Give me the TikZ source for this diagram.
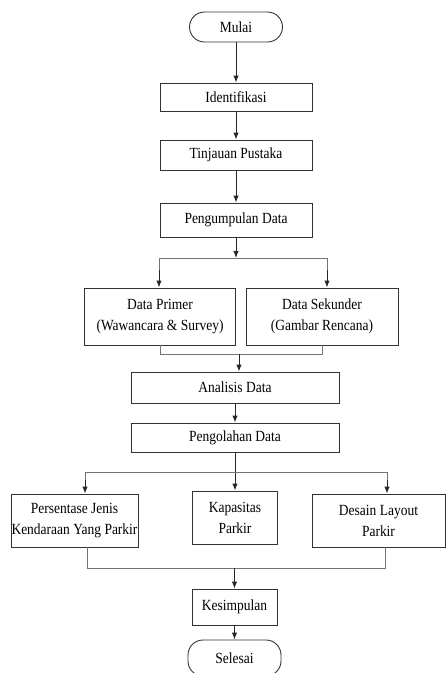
\documentclass[tikz,border=0pt]{standalone}
\usepackage{fontspec}
\setmainfont{Liberation Serif}[FakeStretch=0.87]
\usetikzlibrary{arrows.meta}

\begin{document}
\begin{tikzpicture}[x=1pt, y=-1pt,
    font=\fontsize{15.5}{21}\selectfont,
    proses/.style={draw=black!80, line width=0.9pt, align=center, inner sep=0pt},
    terminal/.style={proses, rounded corners=15pt, minimum width=93pt, minimum height=30pt},
    panah/.style={-{Latex[length=7pt,width=5.5pt]}, line width=1pt, black!85},
    garis/.style={line width=1pt, black!55}]
    \useasboundingbox (0,0) rectangle (447,673);
    % alur utama
    \node[terminal] (mulai) at (236,27) {Mulai};
    \node[proses, minimum width=152pt, minimum height=28pt] (ident) at (236,97) {Identifikasi};
    \node[proses, minimum width=152pt, minimum height=30pt] (tinjau) at (236,155) {Tinjauan Pustaka};
    \node[proses, minimum width=152pt, minimum height=34pt] (kumpul) at (236,220) {Pengumpulan Data};
    \node[proses, minimum width=151pt, minimum height=57pt] (primer) at (160,316.5) {Data Primer\\(Wawancara \& Survey)};
    \node[proses, minimum width=152pt, minimum height=57pt] (sekunder) at (322,316.5) {Data Sekunder\\(Gambar Rencana)};
    \node[proses, minimum width=208pt, minimum height=31pt] (analisis) at (235,387.5) {Analisis Data};
    \node[proses, minimum width=208pt, minimum height=29pt] (olah) at (235,437.5) {Pengolahan Data};
    \node[proses, minimum width=127pt, minimum height=53pt] (persen) at (74.5,520.5) {Persentase Jenis\\Kendaraan Yang Parkir};
    \node[proses, minimum width=85pt, minimum height=53pt] (kapasitas) at (235,517.5) {Kapasitas\\Parkir};
    \node[proses, minimum width=133pt, minimum height=53pt] (desain) at (378.5,520.5) {Desain Layout\\Parkir};
    \node[proses, minimum width=85pt, minimum height=36pt] (simpul) at (234.5,607) {Kesimpulan};
    \node[terminal, minimum height=36pt] (selesai) at (234.5,658) {Selesai};
    % titik cabang
    \coordinate (cab1) at (236,258);
    \coordinate (gab1) at (239,354);
    \coordinate (cab2) at (235,472);
    \coordinate (gab2) at (234.5,568);

    \draw[panah] (mulai) -- (ident);
    \draw[panah] (ident) -- (tinjau);
    \draw[panah] (tinjau) -- (kumpul);
    \draw[panah] (kumpul) -- (cab1);
    \draw[garis] (cab1) -| (159,272);
    \draw[garis] (cab1) -| (327,272);
    \draw[panah] (159,270) -- (primer.north -| 159,0);
    \draw[panah] (327,270) -- (sekunder.north -| 327,0);
    \draw[garis] (primer.south) |- (gab1);
    \draw[garis] (sekunder.south) |- (gab1);
    \draw[panah] (gab1) -- (analisis.north -| gab1);
    \draw[panah] (analisis) -- (olah);
    \draw[panah] (olah) -- (kapasitas);
    \draw[garis] (cab2) -| (85,482);
    \draw[garis] (cab2) -| (387,482);
    \draw[panah] (85,480) -- (persen.north -| 85,0);
    \draw[panah] (387,480) -- (desain.north -| 387,0);
    \draw[garis] (persen.south -| 87,0) |- (gab2);
    \draw[garis] (desain.south -| 385,0) |- (gab2);
    \draw[panah] (gab2) -- (simpul);
    \draw[panah] (simpul) -- (selesai);
\end{tikzpicture}
\end{document}
